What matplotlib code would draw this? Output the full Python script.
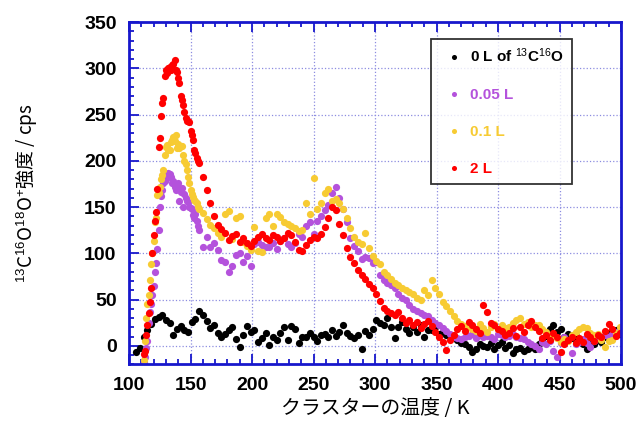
import matplotlib
matplotlib.use('Agg')
import matplotlib.pyplot as plt
from matplotlib.ticker import MultipleLocator

plt.rcParams['font.family'] = ['Liberation Sans', 'Noto Sans CJK JP']
plt.rcParams['mathtext.fontset'] = 'custom'
plt.rcParams['mathtext.rm'] = 'Liberation Sans'
plt.rcParams['mathtext.it'] = 'Liberation Sans:italic'
plt.rcParams['mathtext.bf'] = 'Liberation Sans:bold'

# temperature grid (K)
temp = [106, 109, 112, 115, 118, 121, 124, 127, 130, 133,
        136, 139, 142, 145, 148, 151, 154, 157, 160, 163,
        166, 169, 172, 175, 178, 181, 184, 187, 190, 193,
        196, 199, 202, 205, 208, 211, 214, 217, 220, 223,
        226, 229, 232, 235, 238, 241, 244, 247, 250, 253,
        256, 259, 262, 265, 268, 271, 274, 277, 280, 283,
        286, 289, 292, 295, 298, 301, 304, 307, 310, 313,
        316, 319, 322, 325, 328, 331, 334, 337, 340, 343,
        346, 349, 352, 355, 358, 361, 364, 367, 370, 373,
        376, 379, 382, 385, 388, 391, 394, 397, 400, 403,
        406, 409, 412, 415, 418, 421, 424, 427, 430, 433,
        436, 439, 442, 445, 448, 451, 454, 457, 460, 463,
        466, 469, 472, 475, 478, 481, 484, 487, 490, 493,
        496, 499]

# extra readings in the steep region
fine_t = [113, 114, 116, 117, 119, 120, 122, 123, 125, 126,
          128, 129, 131, 132, 134, 135, 137, 138, 140, 141,
          143, 144, 146, 147, 149, 150, 152, 153, 155, 156]

# 0 L (from 106 K)
y_0L = [-7, -2, 10, 17, 24, 29, 31, 33, 28, 25,
        12, 18, 21, 17, 15, 26, 29, 38, 33, 27,
        19, 22, 14, 9, 13, 17, 20, 7, -1, 12,
        21, 15, 17, 4, 8, 14, 1, 10, 6, 14,
        20, 6, 21, 18, 3, 10, 9, 14, 9, 5,
        12, 13, 10, 17, 11, 15, 23, 14, 11, 8,
        12, -3, 16, 12, 18, 28, 25, 22, 30, 20,
        8, 20, 26, 18, 14, 20, 15, 22, 10, 17,
        17, 20, 13, 15, 12, 11, 10, 6, 3, 2,
        -1, -7, -4, 2, 0, -1, 3, -3, 1, 4,
        -2, 1, -8, -4, -2, -6, -3, -1, -4, 2,
        6, 11, 18, 22, 15, 18, 9, 13, 8, 11,
        6, 2, -3, 5, 2, 8, 4, 10, 14, 8,
        17, 13]

# 0.05 L (from 112 K)
y_005L = [-18, 5, 45, 80, 125, 168, 180, 186, 178, 172,
          166, 164, 155, 148, 142, 125, 107, 118, 107, 111,
          104, 93, 91, 80, 86, 98, 100, 91, 97, 86,
          110, 112, 109, 107, 107, 111, 105, 113, 117, 110,
          107, 111, 121, 118, 130, 134, 121, 135, 140, 147,
          152, 165, 172, 160, 148, 134, 116, 108, 103, 94,
          96, 95, 89, 91, 76, 71, 68, 66, 62, 56,
          52, 50, 44, 40, 38, 35, 33, 32, 28, 25,
          22, 19, 16, 13, 10, 8, 7, 9, 11, 13,
          8, 12, 9, 11, 10, 7, 13, 12, 9, 11,
          13, 10, 8, 7, 4, 2, 0, -3, 4, 2,
          5, -6, -12, 3, 10, 6, -8, 2, 4, 7,
          3, -1, 5, 8, 10, 12, 9, 13, 15, 17]
fine_005L = [-12, -2, 25, 36, 55, 65, 90, 105, 150, 162,
             176, 178, 184, 187, 183, 176, 172, 168, 176, 156,
             171, 150, 160, 156, 150, 149, 141, 138, 135, 130]

# 0.1 L (from 112 K)
y_01L = [-15, 45, 88, 134, 165, 185, 215, 212, 226, 214,
         216, 200, 182, 164, 156, 148, 144, 137, 131, 127,
         122, 118, 142, 146, 115, 138, 140, 112, 108, 104,
         128, 102, 101, 138, 143, 130, 143, 139, 134, 132,
         129, 127, 124, 125, 154, 143, 181, 148, 154, 165,
         170, 157, 159, 154, 148, 138, 127, 118, 112, 110,
         122, 106, 97, 92, 88, 80, 77, 72, 68, 66,
         62, 60, 58, 56, 52, 49, 60, 55, 71, 62,
         56, 47, 43, 38, 32, 27, 24, 21, 20, 18,
         16, 24, 19, 15, 20, 24, 18, 22, 19, 20,
         25, 28, 30, 24, 26, 20, 23, 22, 18, 15,
         12, 13, 8, 4, 7, 5, 12, 15, 18, 20,
         19, 14, 12, 13, 6, -1, 5, 6, 14, 20]
fine_01L = [5, 30, 55, 71, 100, 113, 138, 163, 172, 180,
            190, 206, 217, 212, 220, 222, 221, 228, 218, 214,
            216, 206, 196, 190, 176, 168, 161, 158, 154, 150]

# 2 L (from 112 K)
y_2L = [-9, 22, 62, 135, 215, 262, 298, 301, 305, 296,
        270, 253, 243, 228, 208, 198, 182, 168, 154, 140,
        131, 126, 122, 114, 119, 121, 112, 116, 111, 108,
        113, 118, 121, 117, 114, 120, 118, 113, 117, 122,
        120, 112, 104, 103, 109, 114, 118, 116, 121, 128,
        138, 150, 147, 132, 120, 106, 96, 89, 82, 76,
        72, 67, 62, 56, 48, 41, 38, 35, 33, 37,
        30, 25, 28, 22, 26, 19, 24, 27, 21, 15,
        9, 4, -5, 6, 12, 18, 21, 16, 26, 22,
        18, 14, 44, 36, 25, 22, 18, 16, 12, 14,
        19, 11, 20, 15, 22, 27, 20, 16, 8, 12,
        6, 14, 9, -7, 2, 6, 10, 3, 8, 4,
        13, 9, 5, 12, 10, 16, 24, 18, 11, 14]
fine_2L = [-6, 12, 35, 47, 100, 120, 145, 170, 225, 248,
           268, 292, 295, 300, 298, 303, 309, 298, 289, 284,
           266, 260, 246, 243, 242, 232, 222, 212, 203, 200]

labels = ['0 L of $^{13}$C$^{16}$O', '0.05 L', '0.1 L', '2 L']
colors = ['#000000', '#b452dc', '#f7cb33', '#ff0000']

fig = plt.figure(figsize=(6.4, 4.21), dpi=100)
ax = fig.add_axes([0.2016, 0.1347, 0.7688, 0.813])

ax.plot(temp, y_0L, 'o', ms=5.2, mew=0, color=colors[0], label=labels[0])
series = [(y_005L, fine_005L), (y_01L, fine_01L), (y_2L, fine_2L)]
for (ys, fs), lab, c in zip(series, labels[1:], colors[1:]):
    ax.plot(temp[2:] + fine_t, ys + fs, 'o', ms=5.2, mew=0, color=c, label=lab)

ax.set_xlim(100, 500)
ax.set_ylim(-20, 350)
ax.xaxis.set_major_locator(MultipleLocator(50))
ax.xaxis.set_minor_locator(MultipleLocator(10))
ax.yaxis.set_major_locator(MultipleLocator(50))
ax.yaxis.set_minor_locator(MultipleLocator(10))
ax.grid(True, which='major', color='#8c8ce0', linestyle=':', linewidth=0.9)

blue = '#1717cc'
for s in ax.spines.values():
    s.set_color(blue)
    s.set_linewidth(2)
ax.tick_params(which='both', direction='in', top=True, right=False,
               color=blue, width=1.3, labelcolor='black')
ax.tick_params(which='major', length=7, labelsize=14, pad=9)
ax.tick_params(which='minor', length=3.5)
for t in ax.get_xticklabels() + ax.get_yticklabels():
    t.set_fontweight('bold')

jp = 'Noto Sans CJK JP'
ax.set_xlabel('クラスターの温度 / K', fontsize=14.3, family=jp)
ax.set_ylabel('$^{13}$C$^{16}$O$^{18}$O$^{+}$強度 / cps', fontsize=13.6, family=jp)
ax.xaxis.set_label_coords(0.5, -0.098)
ax.yaxis.set_label_coords(-0.183, 0.5)

leg = ax.legend(loc='upper left', bbox_to_anchor=(0.673, 0.907),
                bbox_transform=fig.transFigure, borderaxespad=0,
                frameon=True, fancybox=False, markerscale=0.7,
                prop={'weight': 'bold', 'size': 11}, labelspacing=1.5,
                handlelength=2.0, handletextpad=0.1, borderpad=0.5)
leg.get_frame().set_edgecolor('black')
leg.get_frame().set_linewidth(1.3)
for t, c in zip(leg.get_texts(), colors):
    t.set_color(c)

fig.savefig('out.png', dpi=100)
